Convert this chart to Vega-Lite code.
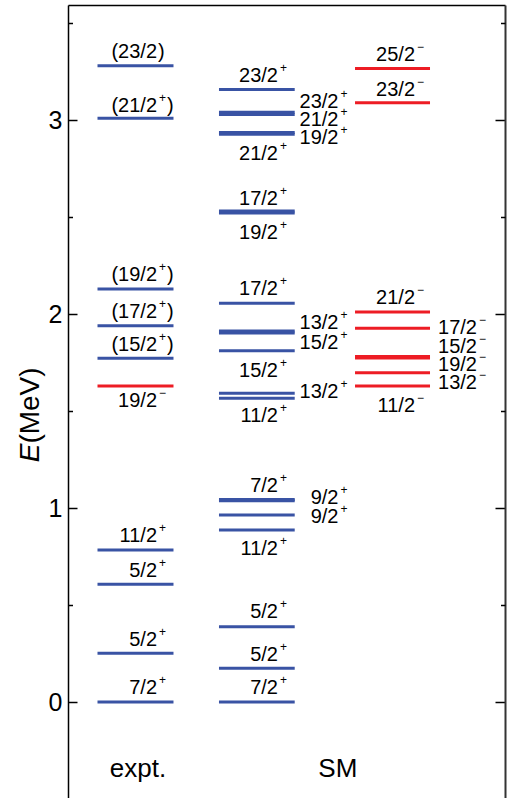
{
  "$schema": "https://vega.github.io/schema/vega-lite/v6.json",
  "width": 437,
  "height": 793,
  "autosize": "none",
  "padding": {"left": 68, "top": 5, "right": 4, "bottom": 0},
  "config": {
    "view": {"stroke": null},
    "font": "Liberation Sans",
    "axis": {"grid": false, "domainColor": "black", "domainWidth": 1.5, "tickColor": "black", "tickWidth": 1.5, "labelFont": "Liberation Sans", "labelFontSize": 25, "labelColor": "black", "titleColor": "black", "titleFont": "Liberation Sans", "titleFontSize": 28, "titleFontWeight": "normal"}
  },
  "datasets": {
    "slots": [
      {"slot": "expt", "x0": 0.675, "x1": 2.414, "anchor": 2.037},
      {"slot": "SM+", "x0": 3.455, "x1": 5.188, "anchor": 4.805},
      {"slot": "SM+ side", "anchor": 6.19},
      {"slot": "SM-", "x0": 6.568, "x1": 8.284, "anchor": 7.941},
      {"slot": "SM- side", "anchor": 9.359},
      {"slot": "expt title", "anchor": 1.602},
      {"slot": "SM title", "anchor": 6.174}
    ],
    "levels": [
      {"slot": "expt", "E": 0.0, "J": "7/2", "P": "+"},
      {"slot": "expt", "E": 0.251, "J": "5/2", "P": "+"},
      {"slot": "expt", "E": 0.607, "J": "5/2", "P": "+"},
      {"slot": "expt", "E": 0.784, "J": "11/2", "P": "+"},
      {"slot": "expt", "E": 1.629, "J": "19/2", "P": "−"},
      {"slot": "expt", "E": 1.772, "J": "15/2", "P": "+"},
      {"slot": "expt", "E": 1.94, "J": "17/2", "P": "+"},
      {"slot": "expt", "E": 2.129, "J": "19/2", "P": "+"},
      {"slot": "expt", "E": 3.009, "J": "21/2", "P": "+"},
      {"slot": "expt", "E": 3.28, "J": "23/2", "P": "?"},
      {"slot": "SM+", "E": 0.0, "J": "7/2", "P": "+"},
      {"slot": "SM+", "E": 0.174, "J": "5/2", "P": "+"},
      {"slot": "SM+", "E": 0.388, "J": "5/2", "P": "+"},
      {"slot": "SM+", "E": 0.887, "J": "11/2", "P": "+"},
      {"slot": "SM+", "E": 0.964, "J": "9/2", "P": "+"},
      {"slot": "SM+", "E": 1.038, "J": "9/2", "P": "+"},
      {"slot": "SM+", "E": 1.044, "J": "7/2", "P": "+"},
      {"slot": "SM+", "E": 1.566, "J": "11/2", "P": "+"},
      {"slot": "SM+", "E": 1.592, "J": "13/2", "P": "+"},
      {"slot": "SM+", "E": 1.811, "J": "15/2", "P": "+"},
      {"slot": "SM+", "E": 1.902, "J": "15/2", "P": "+"},
      {"slot": "SM+", "E": 1.912, "J": "13/2", "P": "+"},
      {"slot": "SM+", "E": 2.055, "J": "17/2", "P": "+"},
      {"slot": "SM+", "E": 2.521, "J": "19/2", "P": "+"},
      {"slot": "SM+", "E": 2.531, "J": "17/2", "P": "+"},
      {"slot": "SM+", "E": 2.927, "J": "21/2", "P": "+"},
      {"slot": "SM+", "E": 2.935, "J": "19/2", "P": "+"},
      {"slot": "SM+", "E": 3.029, "J": "21/2", "P": "+"},
      {"slot": "SM+", "E": 3.04, "J": "23/2", "P": "+"},
      {"slot": "SM+", "E": 3.157, "J": "23/2", "P": "+"},
      {"slot": "SM-", "E": 1.629, "J": "11/2", "P": "−"},
      {"slot": "SM-", "E": 1.697, "J": "13/2", "P": "−"},
      {"slot": "SM-", "E": 1.773, "J": "19/2", "P": "−"},
      {"slot": "SM-", "E": 1.781, "J": "15/2", "P": "−"},
      {"slot": "SM-", "E": 1.927, "J": "17/2", "P": "−"},
      {"slot": "SM-", "E": 2.01, "J": "21/2", "P": "−"},
      {"slot": "SM-", "E": 3.089, "J": "23/2", "P": "−"},
      {"slot": "SM-", "E": 3.266, "J": "25/2", "P": "−"}
    ],
    "labels": [
      {"slot": "expt", "E": 0.07, "main": "7/2", "sup": "+", "close": ""},
      {"slot": "expt", "E": 0.321, "main": "5/2", "sup": "+", "close": ""},
      {"slot": "expt", "E": 0.677, "main": "5/2", "sup": "+", "close": ""},
      {"slot": "expt", "E": 0.854, "main": "11/2", "sup": "+", "close": ""},
      {"slot": "expt", "E": 1.552, "main": "19/2", "sup": "−", "close": ""},
      {"slot": "expt", "E": 1.842, "main": "(15/2", "sup": "+", "close": ")"},
      {"slot": "expt", "E": 2.01, "main": "(17/2", "sup": "+", "close": ")"},
      {"slot": "expt", "E": 2.199, "main": "(19/2", "sup": "+", "close": ")"},
      {"slot": "expt", "E": 3.072, "main": "(21/2", "sup": "+", "close": ")"},
      {"slot": "expt", "E": 3.35, "main": "(23/2", "sup": "", "close": ")"},
      {"slot": "SM+", "E": 0.07, "main": "7/2", "sup": "+", "close": ""},
      {"slot": "SM+", "E": 0.244, "main": "5/2", "sup": "+", "close": ""},
      {"slot": "SM+", "E": 0.462, "main": "5/2", "sup": "+", "close": ""},
      {"slot": "SM+", "E": 0.789, "main": "11/2", "sup": "+", "close": ""},
      {"slot": "SM+", "E": 1.112, "main": "7/2", "sup": "+", "close": ""},
      {"slot": "SM+", "E": 1.475, "main": "11/2", "sup": "+", "close": ""},
      {"slot": "SM+", "E": 1.707, "main": "15/2", "sup": "+", "close": ""},
      {"slot": "SM+", "E": 2.127, "main": "17/2", "sup": "+", "close": ""},
      {"slot": "SM+", "E": 2.42, "main": "19/2", "sup": "+", "close": ""},
      {"slot": "SM+", "E": 2.595, "main": "17/2", "sup": "+", "close": ""},
      {"slot": "SM+", "E": 2.825, "main": "21/2", "sup": "+", "close": ""},
      {"slot": "SM+", "E": 3.227, "main": "23/2", "sup": "+", "close": ""},
      {"slot": "SM+ side", "E": 0.955, "main": "9/2", "sup": "+", "close": ""},
      {"slot": "SM+ side", "E": 1.05, "main": "9/2", "sup": "+", "close": ""},
      {"slot": "SM+ side", "E": 1.6, "main": "13/2", "sup": "+", "close": ""},
      {"slot": "SM+ side", "E": 1.849, "main": "15/2", "sup": "+", "close": ""},
      {"slot": "SM+ side", "E": 1.952, "main": "13/2", "sup": "+", "close": ""},
      {"slot": "SM+ side", "E": 2.906, "main": "19/2", "sup": "+", "close": ""},
      {"slot": "SM+ side", "E": 3.0, "main": "21/2", "sup": "+", "close": ""},
      {"slot": "SM+ side", "E": 3.094, "main": "23/2", "sup": "+", "close": ""},
      {"slot": "SM-", "E": 1.527, "main": "11/2", "sup": "−", "close": ""},
      {"slot": "SM-", "E": 2.082, "main": "21/2", "sup": "−", "close": ""},
      {"slot": "SM-", "E": 3.157, "main": "23/2", "sup": "−", "close": ""},
      {"slot": "SM-", "E": 3.336, "main": "25/2", "sup": "−", "close": ""},
      {"slot": "SM- side", "E": 1.643, "main": "13/2", "sup": "−", "close": ""},
      {"slot": "SM- side", "E": 1.737, "main": "19/2", "sup": "−", "close": ""},
      {"slot": "SM- side", "E": 1.831, "main": "15/2", "sup": "−", "close": ""},
      {"slot": "SM- side", "E": 1.93, "main": "17/2", "sup": "−", "close": ""}
    ],
    "captions": [
      {"slot": "expt title", "E": -0.385, "text": "expt."},
      {"slot": "SM title", "E": -0.385, "text": "SM"}
    ]
  },
  "layer": [
    {
      "data": {"name": "levels"},
      "transform": [{"lookup": "slot", "from": {"data": {"name": "slots"}, "key": "slot", "fields": ["x0", "x1"]}}],
      "mark": {"type": "rule", "strokeWidth": 3},
      "encoding": {
        "x": {"field": "x0", "type": "quantitative", "scale": {"domain": [0, 10]}, "axis": {"orient": "top", "ticks": false, "labels": false, "title": null, "domain": true, "offset": 0}},
        "x2": {"field": "x1"},
        "y": {"field": "E", "type": "quantitative", "scale": {"domain": [-0.4948, 3.5928], "nice": false, "zero": false},
          "axis": {"orient": "left", "offset": 0, "values": [0, 1, 2, 3], "tickSize": -9, "labelPadding": 15, "domain": true, "title": "(MeV)", "titleX": -29.5, "titleY": 400, "titleAngle": -90, "titleAlign": "center", "titleBaseline": "alphabetic"}},
        "color": {"field": "P", "type": "nominal", "scale": {"domain": ["+", "−", "?"], "range": ["#3953a4", "#ed1c24", "#3953a4"]}, "legend": null}
      }
    },
    {
      "data": {"name": "labels"},
      "transform": [{"lookup": "slot", "from": {"data": {"name": "slots"}, "key": "slot", "fields": ["anchor"]}}],
      "mark": {"type": "text", "align": "right", "baseline": "middle", "fontSize": 20, "color": "black"},
      "encoding": {
        "x": {"field": "anchor", "type": "quantitative", "scale": {"domain": [0, 10]}, "axis": null},
        "y": {"field": "E", "type": "quantitative", "scale": {"domain": [-0.4948, 3.5928], "nice": false, "zero": false},
          "axis": {"orient": "left", "offset": 0, "values": [-0.5, 0.5, 1.5, 2.5, 3.5], "tickSize": -4.5, "labels": false, "domain": false, "title": "E", "titleFontStyle": "italic", "titleX": -29.5, "titleY": 447.3, "titleAngle": -90, "titleAlign": "center", "titleBaseline": "alphabetic"}},
        "text": {"field": "main"}
      }
    },
    {
      "data": {"name": "labels"},
      "transform": [{"filter": "datum.sup != ''"}, {"lookup": "slot", "from": {"data": {"name": "slots"}, "key": "slot", "fields": ["anchor"]}}],
      "mark": {"type": "text", "align": "left", "baseline": "middle", "fontSize": 12, "dx": 2, "dy": -8, "color": "black"},
      "encoding": {
        "x": {"field": "anchor", "type": "quantitative", "scale": {"domain": [0, 10]}, "axis": null},
        "y": {"field": "E", "type": "quantitative", "scale": {"domain": [-0.4948, 3.5928], "nice": false, "zero": false},
          "axis": {"orient": "right", "offset": 0, "values": [0, 1, 2, 3], "tickSize": -10, "labels": false, "domain": true, "domainWidth": 2, "domainColor": "#333333", "title": null}},
        "text": {"field": "sup"}
      }
    },
    {
      "data": {"name": "labels"},
      "transform": [{"filter": "datum.close != '' && datum.sup != ''"}, {"lookup": "slot", "from": {"data": {"name": "slots"}, "key": "slot", "fields": ["anchor"]}}],
      "mark": {"type": "text", "align": "left", "baseline": "middle", "fontSize": 20, "dx": 10, "color": "black"},
      "encoding": {
        "x": {"field": "anchor", "type": "quantitative", "scale": {"domain": [0, 10]}, "axis": null},
        "y": {"field": "E", "type": "quantitative", "scale": {"domain": [-0.4948, 3.5928], "nice": false, "zero": false},
          "axis": {"orient": "right", "offset": 0, "values": [-0.5, 0.5, 1.5, 2.5, 3.5], "tickSize": -4.5, "labels": false, "domain": false, "title": null}},
        "text": {"field": "close"}
      }
    },
    {
      "data": {"name": "labels"},
      "transform": [{"filter": "datum.close != '' && datum.sup == ''"}, {"lookup": "slot", "from": {"data": {"name": "slots"}, "key": "slot", "fields": ["anchor"]}}],
      "mark": {"type": "text", "align": "left", "baseline": "middle", "fontSize": 20, "dx": 1, "color": "black"},
      "encoding": {
        "x": {"field": "anchor", "type": "quantitative", "scale": {"domain": [0, 10]}, "axis": null},
        "y": {"field": "E", "type": "quantitative", "scale": {"domain": [-0.4948, 3.5928], "nice": false, "zero": false}, "axis": null},
        "text": {"field": "close"}
      }
    },
    {
      "data": {"name": "captions"},
      "transform": [{"lookup": "slot", "from": {"data": {"name": "slots"}, "key": "slot", "fields": ["anchor"]}}],
      "mark": {"type": "text", "align": "center", "baseline": "alphabetic", "fontSize": 26, "color": "black"},
      "encoding": {
        "x": {"field": "anchor", "type": "quantitative", "scale": {"domain": [0, 10]}, "axis": null},
        "y": {"field": "E", "type": "quantitative", "scale": {"domain": [-0.4948, 3.5928], "nice": false, "zero": false}, "axis": null},
        "text": {"field": "text"}
      }
    }
  ],
  "resolve": {"axis": {"y": "independent", "x": "independent"}}
}
